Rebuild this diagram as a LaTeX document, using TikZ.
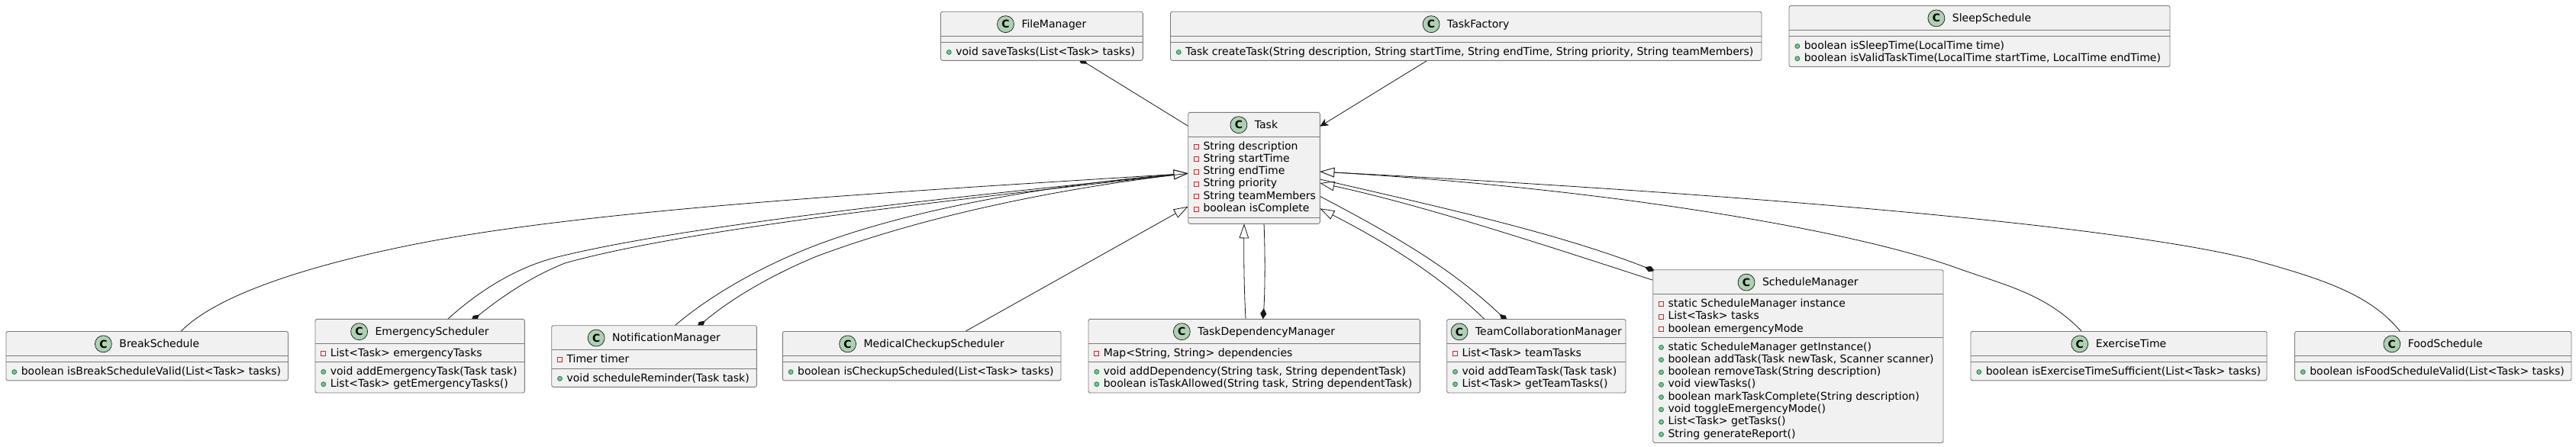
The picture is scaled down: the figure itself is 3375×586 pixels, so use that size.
\documentclass[tikz,border=0pt]{standalone}
\usepackage{fontspec}
\setmainfont{DejaVu Sans}
\usetikzlibrary{arrows.meta}
\pgfdeclarelayer{bg}
\pgfsetlayers{bg,main}
\definecolor{lnc}{HTML}{181818}
\definecolor{boxfill}{HTML}{F1F1F1}
\definecolor{boxline}{HTML}{7A7A7A}
\definecolor{iconfill}{HTML}{ADD1B2}
\definecolor{privc}{HTML}{C82930}
\definecolor{pubc}{HTML}{038048}
\definecolor{pubf}{HTML}{84BE84}
\newcommand{\umlfont}{\fontsize{14pt}{16pt}\selectfont}
\newcount\umlrow
\tikzset{
  classbox/.style={draw=boxline,fill=boxfill,line width=.9pt,rounded corners=2.5pt,anchor=north west,inner sep=0pt,outer sep=0pt},
  secline/.style={draw=boxline,line width=.9pt},
  classicon/.style={circle,draw=lnc,fill=iconfill,line width=.7pt,minimum size=22pt,inner sep=0pt,font=\fontsize{14pt}{16pt}\selectfont\bfseries},
  labeltext/.style={anchor=base west,inner sep=0pt,outer sep=0pt,font=\umlfont,text=black},
  pubmark/.style={circle,draw=pubc,fill=pubf,line width=.7pt,minimum size=6pt,inner sep=0pt},
  privmark/.style={rectangle,draw=privc,fill=boxfill,line width=.7pt,minimum size=6pt,inner sep=0pt},
  conn/.style={draw=lnc,line width=.8pt},
  inherit/.style={conn,-{Triangle[length=19pt,width=12.6pt,fill=white]}},
  compo/.style={conn,{Diamond[length=14pt,width=8pt,fill=lnc]}-},
  compoend/.style={conn,-{Diamond[length=14pt,width=8pt,fill=lnc]}},
  openarrow/.style={conn,-{Stealth[length=11pt,width=10pt,inset=3pt,fill=lnc]}},
}
% id, left, top, right, bottom, section line 1, section line 2, title
\newcommand{\umlclass}[8]{%
  \node[classbox,minimum width={(#4-#2)*1pt},minimum height={(#5-#3)*1pt}] (#1) at (#2,#3) {};
  \draw[secline] (#2,#6) -- (#4,#6);
  \draw[secline] (#2,#7) -- (#4,#7);
  \node[labeltext,anchor=base] (#1-title) at ({(#2+#4)/2+16},{#3+21}) {#8};
  \node[classicon] (#1-icon) at ([shift={(-21pt,4.6pt)}]#1-title.base west) {C};
}
\newcommand{\rowsat}[2]{\xdef\umlleft{#1}\pgfmathsetmacro{\umltmp}{#2+16.7}\xdef\umlbase{\umltmp}}
\newcommand{\umladv}{\pgfmathsetmacro{\umltmp}{\umlbase+16.3}\xdef\umlbase{\umltmp}\global\advance\umlrow by 1 }
\newcommand{\pubm}[1]{%
  \node[pubmark] (rm\the\umlrow) at ({\umlleft+10.8},{\umlbase-3.6}) {};
  \node[labeltext] (rt\the\umlrow) at ({\umlleft+19.8},{\umlbase}) {#1};
  \umladv}
\newcommand{\privm}[1]{%
  \node[privmark] (rm\the\umlrow) at ({\umlleft+10.8},{\umlbase-3.6}) {};
  \node[labeltext] (rt\the\umlrow) at ({\umlleft+19.8},{\umlbase}) {#1};
  \umladv}
\begin{document}
\begin{tikzpicture}[x=1pt,y=-1pt]
\useasboundingbox (0,0) rectangle (3375,586);
\begin{pgfonlayer}{bg}
\fill[white] (0,0) rectangle (3375,586);
\end{pgfonlayer}

\umlclass{file}{1232.5}{15.3}{1497.3}{79.3}{47.3}{55.3}{FileManager}
\rowsat{1232.5}{55.3}
\pubm{void saveTasks(List<Task> tasks)}

\umlclass{factory}{1533.5}{15.3}{2308}{79.3}{47.3}{55.3}{TaskFactory}
\rowsat{1533.5}{55.3}
\pubm{Task createTask(String description, String startTime, String endTime, String priority, String teamMembers)}

\umlclass{sleep}{2344}{7.5}{2843}{87.5}{39.4}{47.4}{SleepSchedule}
\rowsat{2344}{47.4}
\pubm{boolean isSleepTime(LocalTime time)}
\pubm{boolean isValidTaskTime(LocalTime startTime, LocalTime endTime)}

\umlclass{task}{1556.7}{147.3}{1729.3}{293.3}{179.3}{285.3}{Task}
\rowsat{1556.7}{179.3}
\privm{String description}
\privm{String startTime}
\privm{String endTime}
\privm{String priority}
\privm{String teamMembers}
\privm{boolean isComplete}

\umlclass{break}{8}{434.5}{377.5}{498.8}{466.5}{474.5}{BreakSchedule}
\rowsat{8}{474.5}
\pubm{boolean isBreakScheduleValid(List<Task> tasks)}

\umlclass{emerg}{413}{418.3}{687.3}{515}{450.3}{474.3}{EmergencyScheduler}
\rowsat{413}{450.3}
\privm{List<Task> emergencyTasks}
\rowsat{413}{474.3}
\pubm{void addEmergencyTask(Task task)}
\pubm{List<Task> getEmergencyTasks()}

\umlclass{notif}{722.7}{426.7}{991.3}{507.3}{458.5}{483.3}{NotificationManager}
\rowsat{722.7}{458.5}
\privm{Timer timer}
\rowsat{722.7}{483.3}
\pubm{void scheduleReminder(Task task)}

\umlclass{medical}{1025.3}{434.5}{1390}{498.8}{466.5}{474.5}{MedicalCheckupScheduler}
\rowsat{1025.3}{474.5}
\pubm{boolean isCheckupScheduled(List<Task> tasks)}

\umlclass{dep}{1426}{418.3}{1860.3}{515}{450.3}{474.3}{TaskDependencyManager}
\rowsat{1426}{450.3}
\privm{Map<String, String> dependencies}
\rowsat{1426}{474.3}
\pubm{void addDependency(String task, String dependentTask)}
\pubm{boolean isTaskAllowed(String task, String dependentTask)}

\umlclass{team}{1895.7}{418.5}{2130}{515}{450.3}{474.3}{TeamCollaborationManager}
\rowsat{1895.7}{450.3}
\privm{List<Task> teamTasks}
\rowsat{1895.7}{474.3}
\pubm{void addTeamTask(Task task)}
\pubm{List<Task> getTeamTasks()}

\umlclass{sched}{2165.7}{353.7}{2546}{580.5}{385.7}{442.3}{ScheduleManager}
\rowsat{2165.7}{385.7}
\privm{static ScheduleManager instance}
\privm{List<Task> tasks}
\privm{boolean emergencyMode}
\rowsat{2165.7}{442.3}
\pubm{static ScheduleManager getInstance()}
\pubm{boolean addTask(Task newTask, Scanner scanner)}
\pubm{boolean removeTask(String description)}
\pubm{void viewTasks()}
\pubm{boolean markTaskComplete(String description)}
\pubm{void toggleEmergencyMode()}
\pubm{List<Task> getTasks()}
\pubm{String generateReport()}

\umlclass{exercise}{2582}{434.5}{2970}{498.8}{466.5}{474.5}{ExerciseTime}
\rowsat{2582}{474.5}
\pubm{boolean isExerciseTimeSufficient(List<Task> tasks)}

\umlclass{food}{3006.5}{434.5}{3369}{498.8}{466.5}{474.5}{FoodSchedule}
\rowsat{3006.5}{474.5}
\pubm{boolean isFoodScheduleValid(List<Task> tasks)}

\coordinate (tL) at ([yshift=-80pt]task.north west);
\coordinate (tR) at ([yshift=-77.7pt]task.north east);

\begin{pgfonlayer}{bg}
% top
\draw[compo] ([xshift=180pt,yshift=3pt]file.south west) -- ([yshift=-18pt]task.north west);
\draw[openarrow] ([xshift=336.5pt]factory.south west) -- ([yshift=-18.4pt]task.north east);
% left fan
\draw[inherit] ([xshift=229pt]break.north west) .. controls (295,375) and (460,336) .. (560,317)
   .. controls (800,272) and (1200,250) .. (tL);
\draw[inherit] ([xshift=173.7pt]emerg.north west) .. controls (620,388) and (670,352) .. (730,337)
   .. controls (900,295) and (1250,258) .. (tL);
\draw[compo] ([xshift=204pt,yshift=-3pt]emerg.north west) .. controls (650,395) and (690,365) .. (740,345)
   .. controls (900,300) and (1250,262) .. (tL);
\draw[inherit] ([xshift=161.6pt]notif.north west) .. controls (925,392) and (985,355) .. (1060,325)
   .. controls (1200,270) and (1400,240) .. (tL);
\draw[compo] ([xshift=190.3pt,yshift=-3pt]notif.north west) .. controls (950,398) and (1000,365) .. (1070,336)
   .. controls (1220,280) and (1400,245) .. (tL);
% below
\draw[inherit] ([xshift=239.3pt]medical.north west) -- ([yshift=-123.4pt]task.north west);
\draw[inherit] ([xshift=206pt]dep.north west) .. controls (1630,380) and (1629.5,340) .. ([xshift=73.3pt]task.south west);
\draw[compo] ([xshift=228.7pt]dep.north west) .. controls (1657,390) and (1658,340) .. ([xshift=99.3pt]task.south west);
\draw[inherit] ([xshift=49.3pt]team.north west) .. controls (1900,375) and (1840,330) .. ([yshift=-126pt]task.north east);
\draw[compoend] ([yshift=-110pt]task.north east) .. controls (1820,305) and (1900,350) .. ([xshift=79.3pt,yshift=-3pt]team.north west);
% right fan
\draw[inherit] ([yshift=-13.6pt]sched.north west) .. controls (2050,330) and (1870,270) .. ([yshift=-92.7pt]task.north east);
\draw[compoend] ([yshift=-87.7pt]task.north east) .. controls (1880,270) and (2040,305) .. ([xshift=2.3pt,yshift=-1.5pt]sched.north west);
\draw[inherit] ([xshift=145.6pt]exercise.north west) .. controls (2680,385) and (2630,375) .. (2560,350)
   .. controls (2420,300) and (2100,247) .. (tR);
\draw[inherit] ([xshift=138.2pt]food.north west) .. controls (3105,385) and (3040,365) .. (2950,340)
   .. controls (2750,290) and (2200,250) .. (tR);
\end{pgfonlayer}
\end{tikzpicture}
\end{document}
